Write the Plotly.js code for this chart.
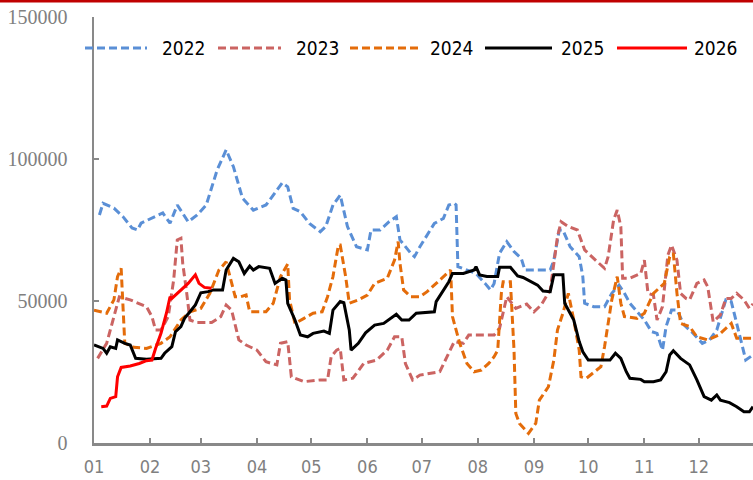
<!DOCTYPE html>
<html><head><meta charset="utf-8">
<script src="https://cdn.plot.ly/plotly-3.0.1.min.js"></script>
<style>html,body{margin:0;padding:0;background:#fff;}#chart{width:753px;height:480px;}</style>
</head><body><div id="chart"></div>
<script>
// ---- data (x = day of year, y = value) ----
const seriesNames = ['2022', '2023', '2024', '2025', '2026'];

const days2022 = [3,5,11,16,21,24,26,33,38,42,46,52,57,62,68,73,77,82,88,95,104,107,110,114,119,125,128,132,136,140,145,151,153,158,163,167,169,175,177,180,188,193,196,199,200,201,206,211,216,219,221,224,228,232,236,238,252,254,257,259,263,268,270,271,276,282,286,290,293,296,300,304,308,311,314,316,319,322,326,331,336,340,344,349,352,356,360,364];
const vals2022 = [80300,84400,82700,79700,75700,75000,77400,79600,81000,77400,83800,77900,80300,83800,96100,103200,97300,86200,82000,83800,91600,90200,82600,81400,77300,74400,76200,83800,87300,76200,69100,68000,75000,75000,77900,79700,71500,66800,65600,69100,77300,79100,83800,84400,83800,62100,60900,59700,56200,53900,56200,66800,70900,67400,65000,60900,60900,64400,75000,75000,69100,65600,58600,49200,48000,48000,52700,55600,52700,49200,46200,43300,39200,38600,32700,41000,46800,46800,41500,38600,35100,36300,39800,50400,49800,39800,29200,31000];

const days2023 = [2,7,11,14,20,29,32,34,37,41,44,46,48,49,51,53,57,65,70,73,76,80,84,90,95,101,103,107,109,116,125,129,131,134,136,138,143,149,156,162,166,170,172,176,180,191,195,199,204,207,211,221,224,228,233,239,243,247,252,256,258,262,267,271,277,282,284,287,289,291,292,296,302,304,306,309,311,314,317,319,322,324,327,329,333,337,339,342,346,349,352,355,359,362,364];
const vals2023 = [29800,35100,44500,51500,50400,48000,44500,39800,39800,44500,57400,71500,72100,63300,53900,43300,42400,42400,44500,48600,46800,36300,34500,32700,28600,27500,35100,35700,23300,21600,22200,22200,30400,32700,33300,22200,22800,28000,29200,32700,37400,37400,28000,22200,23900,25100,30400,35700,35100,38000,38000,38000,40400,51500,47400,48900,46200,48600,53900,72600,77900,76200,75000,68000,64400,61500,65600,78500,82000,76200,58000,58000,59700,64400,52700,52100,43300,48000,66200,69700,64400,52700,50900,50400,56200,57400,55000,42700,45100,50900,50900,52700,50400,47400,49000];

const days2024 = [0,7,11,13,15,16,17,22,29,37,42,48,53,59,64,69,73,78,81,84,86,95,99,103,107,108,111,116,121,126,129,132,135,136,139,141,146,151,155,162,166,168,169,171,175,180,184,189,195,197,198,202,206,210,214,218,221,223,225,226,230,232,233,235,240,244,246,251,254,256,259,262,265,268,269,272,280,282,286,289,291,293,300,304,309,315,318,320,322,324,329,333,339,345,352,355,364];
const vals2024 = [46800,45700,50400,58600,61500,48000,35100,33700,33300,35100,37400,43300,46200,47400,52700,60900,63800,51500,51500,52100,46200,46200,49200,58600,63000,50400,42100,43900,45700,46200,51500,58600,69700,69700,58600,49200,50400,52100,56200,58000,64400,70900,63300,53900,51500,51500,53300,56200,59700,60900,44500,35100,28000,25100,25700,28000,30400,32700,52700,56800,56800,32700,10400,6900,3400,6900,15100,19800,29200,39800,45700,52700,43300,32700,23300,22800,26900,33900,50400,58600,49200,44500,43900,45700,52700,56200,65600,66800,52700,42100,41000,37400,36300,38000,42100,36900,36900];

const days2025 = [0,5,7,9,12,13,17,20,23,29,37,39,43,45,48,50,53,56,59,63,66,71,73,77,80,83,86,88,91,97,100,104,106,107,111,114,118,121,127,130,132,136,138,141,142,146,150,155,160,164,167,170,174,178,188,189,193,196,198,204,210,211,213,217,223,224,230,234,237,241,245,248,252,254,259,260,262,265,268,270,273,280,285,288,291,294,296,302,304,309,313,316,318,320,324,329,333,337,341,344,346,351,355,359,362,364];
const vals2025 = [34500,33300,31600,33900,33300,36300,35100,34500,29800,29500,29800,31600,33900,39200,41000,43900,46200,48600,52900,53300,53900,53900,60900,65000,63800,59700,62300,60900,62100,61500,56200,58000,57400,49200,43300,38000,37400,38600,39400,38600,46800,49800,49400,39800,32700,35100,38800,41500,42100,43900,45300,43300,43300,45700,46200,49800,53900,56800,59700,59700,60900,62100,59200,58600,58600,61900,61900,58800,58300,56800,55600,53500,53300,59200,59200,49200,46800,43300,35700,32100,29200,29200,29200,31600,29800,25100,22800,22400,21600,21600,22200,25100,31000,32500,29800,27500,22200,16300,15100,16900,15100,14200,12800,11000,11000,12800];

const days2026 = [4,7,9,12,13,15,20,25,29,32,34,37,40,42,43,48,52,56,58,61,65];
const vals2026 = [12800,13000,15700,16300,23300,26600,27100,28000,29000,29200,33300,38600,45700,51500,50900,53900,56200,59200,56200,54800,54500];

const monthTickLabels = ['01','02','03','04','05','06','07','08','09','10','11','12'];
const yTickVals = [0, 50000, 100000, 150000];
const yTickText = ['0', '50000', '100000', '150000'];

// ---- styles ----
const styles = [
  {color: '#5A8FD6', dash: '8px,4px', width: 3},
  {color: '#CB6462', dash: '8px,4px', width: 3},
  {color: '#E46C0A', dash: '8px,4px', width: 3},
  {color: '#000000', dash: 'solid', width: 3},
  {color: '#FF0000', dash: 'solid', width: 3}
];
const allDays = [days2022, days2023, days2024, days2025, days2026];
const allVals = [vals2022, vals2023, vals2024, vals2025, vals2026];

const BASE = Date.UTC(2023, 0, 1);
const toDate = d => new Date(BASE + d * 86400000).toISOString().slice(0, 10);

const traces = seriesNames.map((name, i) => ({
  type: 'scatter', mode: 'lines', name: name,
  x: allDays[i].map(toDate), y: allVals[i],
  line: {color: styles[i].color, dash: styles[i].dash, width: styles[i].width},
  showlegend: false, hoverinfo: 'skip'
}));

// ---- layout geometry (pixels) ----
const L = 94, T = 17, W = 659, H = 426;
const px2x = p => (p - L) / W;
const py2y = p => (T + H - p) / H;

const legLineStart = [85, 218, 350, 485, 617];
const legLineEnd = [147, 281, 421, 552, 687];
const legTextStart = [160, 294, 428, 559, 692];
const legY = 48;

const shapes = [{
  type: 'rect', xref: 'paper', yref: 'paper',
  x0: px2x(-5), x1: px2x(760), y0: py2y(2.5), y1: py2y(-3),
  fillcolor: '#C00000', line: {width: 0}
}];
const annotations = [];
const narrow = '"Liberation Sans Narrow", "Arial Narrow", "DejaVu Sans Condensed", sans-serif';
seriesNames.forEach((name, i) => {
  shapes.push({
    type: 'line', xref: 'paper', yref: 'paper',
    x0: px2x(legLineStart[i]), x1: px2x(legLineEnd[i]), y0: py2y(legY), y1: py2y(legY),
    line: {color: styles[i].color, dash: styles[i].dash, width: 3}
  });
  annotations.push({
    xref: 'paper', yref: 'paper', x: px2x(legTextStart[i]), y: py2y(legY),
    xanchor: 'left', yanchor: 'middle', showarrow: false, text: name,
    font: {family: narrow, size: 19, color: '#000000'}
  });
});

const layout = {
  width: 753, height: 480,
  margin: {l: L, r: 753 - L - W, t: T, b: 480 - T - H, pad: 0},
  paper_bgcolor: '#ffffff', plot_bgcolor: '#ffffff',
  showlegend: false,
  xaxis: {
    type: 'date', range: [toDate(0), toDate(364)],
    tickmode: 'array', tickvals: monthTickLabels.map(m => '2023-' + m + '-01'), ticktext: monthTickLabels,
    showgrid: false, zeroline: false,
    showline: true, linecolor: '#898989', linewidth: 2.5,
    ticks: 'inside', ticklen: 5, tickwidth: 2, tickcolor: '#898989',
    tickfont: {family: narrow, size: 18, color: '#808080'},
    ticklabelstandoff: 6
  },
  yaxis: {
    range: [0, 150000],
    tickmode: 'array', tickvals: yTickVals, ticktext: yTickText,
    showgrid: false, zeroline: false,
    showline: true, linecolor: '#898989', linewidth: 2.5,
    ticks: 'inside', ticklen: 5, tickwidth: 2, tickcolor: '#898989',
    tickfont: {family: '"Liberation Serif", "Times New Roman", serif', size: 20, color: '#808080'},
    ticklabelstandoff: 20
  },
  shapes: shapes,
  annotations: annotations
};

Plotly.newPlot('chart', traces, layout, {displayModeBar: false, staticPlot: true});
</script>
</body></html>
